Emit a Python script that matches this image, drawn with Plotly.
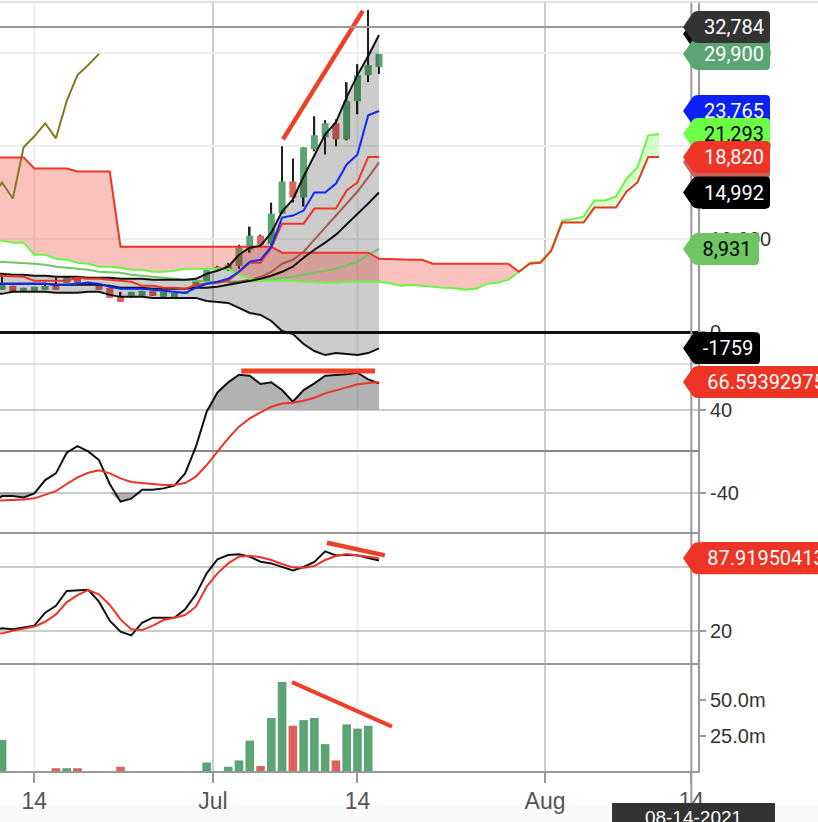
import numpy as np
import pandas as pd
import plotly.graph_objects as go
from plotly.subplots import make_subplots

# daily bars, last candle is 2021-07-16, cloud runs 26 days ahead of it
dates = pd.date_range("2021-06-10", periods=63).strftime("%Y-%m-%d").tolist()
hist = dates[:37]
candle_dates = dates[1:37]

opens = [4532,4963,4316,4316,4532,5179,5287,5827,5395,5071,4748,3777,3884,3884,4424,3777,3669,4100,4856,5395,6690,6690,7121,8848,10358,9495,12732,16185,14459,19638,20933,22443,20717,24817,27622,28486]
closes = [5071,4316,4748,4856,4963,4532,5935,5287,5071,4532,3669,3237,4316,4424,3884,4316,4208,4316,5503,6690,7014,7229,9064,10358,9387,12732,16185,14459,19854,21148,22443,20717,24817,27622,28701,29900]
highs = [5935,4963,4748,4856,5287,5827,5935,5827,5395,5071,4748,4316,4316,4424,4424,4316,4208,4316,5503,6690,7121,7445,9387,11330,10466,13919,19962,18667,19854,23199,22767,22875,26867,28809,34636,29900]
lows = [4532,4316,4316,4316,4532,4532,5287,5287,5071,4532,3669,3237,3669,3884,3884,3777,3669,4100,4856,5395,6690,6582,6798,8524,9387,9387,12732,13919,13488,19422,19098,19962,20609,23414,26867,27730]
volumes = [22,0,0,0,0,2,2,2,0,0,0,3,0,0,0,0,0,0,0,6,0,3,7.5,21.5,3.5,37.5,63,32,36,37.5,19,7.5,33,30,32,0]

band_upper = [6258,6258,6150,6150,6042,6042,5935,5935,5935,5827,5827,5827,5719,5719,5719,5611,5611,5611,5611,5719,6258,6582,7014,8308,9064,9279,10682,12948,14243,16725,18990,21256,22551,25249,27622,29673,31938]
band_mid = [5179,5179,5179,5179,5179,5179,5071,5071,5071,5071,5071,4963,4748,4748,4748,4640,4640,4640,4640,4748,4748,4856,5071,5287,5503,5719,6042,6474,7014,7985,8848,9603,10466,11545,12624,13811,14992]
band_lower = [4100,4100,4316,4316,4316,4316,4208,4208,4208,4316,4316,3992,3777,3777,3777,3669,3669,3669,3669,3669,3345,3237,3129,2590,2050,1834,1187,108,-216,-1295,-2050,-2482,-2266,-2374,-2482,-2266,-1759]
tenkan = [5179,5179,5179,5179,5179,5179,5071,5071,5179,5287,5179,4856,4640,4640,4640,4532,4424,4316,4208,4748,5179,5395,5719,6474,7553,7769,9172,12301,12516,13056,14998,14998,15969,18019,19098,23306,23765]
kijun = [6042,6042,5990,5935,5503,5503,5503,5503,5827,5719,5719,5611,5503,5395,4963,4963,4748,4748,4640,5071,5179,5287,5503,6474,7445,7445,9064,11653,11653,11653,13272,13272,13272,15214,16077,18820,18820]
brown_ma = [5287,5395,5611,5935,6474,7337,7769,8632,9927,11222,12516,13703,15106,16617,18235]
long_ma = [7607,7553,7445,7391,7337,7229,7014,6906,6798,6690,6474,6420,6366,6150,6042,5935,5827,5719,5611,5503,5395,5395,5395,5395,5449,5503,5611,5827,5935,6150,6366,6582,6798,7121,7553,8308,8931]
chikou = [14243,16077,14351,19854,21041,22443,20825,24817,27622,28701,29900]
senkou_b = [18775,18775,18775,18775,17588,17588,17588,17588,17264,17264,17264,17264,9172,9172,9172,9172,9172,9172,9172,9172,9172,9172,9172,9172,9172,9172,9172,8524,8524,8524,8524,8524,8524,8524,8524,8524,7877,7823,7769,7769,7769,7337,7337,7337,7337,7337,7337,7337,7337,6474,7337,7445,8740,11761,11761,11761,13380,13380,13380,15106,16077,18820,18820]
senkou_a = [9927,9819,9603,9603,8308,8308,7877,7769,7445,7337,7014,7014,6906,6690,6690,6474,6474,6582,6798,6798,6798,6798,6798,6150,5719,5503,5503,5503,5503,5395,5395,5287,5287,5395,5395,5395,5395,5233,4963,5071,4963,4802,4748,4694,4532,4640,5179,5287,5611,6474,7445,7553,8848,11977,12139,12408,14135,14135,14567,16509,17696,21148,21293]

osc_black = [-50.4,-43.4,-43.4,-44.7,-40.8,-28,-21.5,-1.6,4.8,-0.3,-8.7,-31.8,-48.8,-45.9,-37.3,-37.3,-36,-33.4,-21.5,4.2,37.9,56.5,66.2,73.6,72.6,64.6,66.2,58.8,47.6,58.8,65.2,72.6,73.3,73.9,75.5,69.1,65.2]
osc_red = [-48.2,-47.9,-47.2,-46.6,-45.6,-42.4,-38.6,-31.8,-25.4,-20.9,-18.6,-21.5,-26.3,-29.9,-30.8,-32.1,-32.8,-32.8,-30.8,-24.7,-13.5,-0.6,12.2,23.5,31.5,37.3,42.7,45.9,46.6,48.5,51.4,55.6,58.8,61.4,64.3,65.2,66.59]
stoch_black = [20.6,22.2,21.3,23.1,24.7,36.9,43.4,57.2,57.5,58.4,47.2,29.4,19.1,15.6,27.5,32.2,32.2,32.2,40,54.1,73.8,86.9,90.9,91.6,89.4,84.7,83.1,80,76.6,79.7,84.4,94.4,90.6,91.3,90.6,88.1,85.9]
stoch_red = [16.6,17.5,20,22.2,23.8,28.4,35.3,46.6,53.4,58.1,54.1,44.1,30.6,21.3,20.6,24.7,30,32.2,34.7,42.5,61.3,73.8,83.1,89.4,90.3,88.8,86.3,82.5,79.4,79.1,80.6,86.3,90,91.9,90.9,89.4,87.92]

# hand drawn trend lines on the original
trend_main_x = ["2021-07-07 02:00", "2021-07-14 12:00"]
trend_main_y = [20717, 34528]
trend_osc_x = ["2021-07-03 05:00", "2021-07-15 15:00"]
trend_osc_y = [77.1, 77.1]
trend_stoch_x = ["2021-07-11 04:00", "2021-07-16 13:00"]
trend_stoch_y = [102.5, 90.6]
trend_vol_x = ["2021-07-07 22:00", "2021-07-17 05:00"]
trend_vol_y = [62.9, 31.4]

tick_dates = ["2021-06-14", "2021-06-30 14:00", "2021-07-14", "2021-07-31 10:00", "2021-08-14"]
tick_text = ["14", "Jul", "14", "Aug", "14"]
x_range = ["2021-06-10 19:25", "2021-08-14 14:53"]

GREEN = "#5ba474"
RED = "#dd635b"
LINE_RED = "#ee3425"
LIME = "#6bf545"
ORANGE = "#ee4026"
DAY = 86400000

# px sizes of the four panes on the 818x822 page
fig = make_subplots(rows=4, cols=1, shared_xaxes=True, vertical_spacing=0, row_heights=[361, 169, 131, 107])


def line(x, y, color, row, width=2):
    fig.add_trace(go.Scatter(x=x, y=y, mode="lines", line=dict(color=color, width=width), hoverinfo="skip"), row=row, col=1)


def fill_between(x, low, high, color, row):
    fig.add_trace(go.Scatter(x=x, y=low, mode="lines", line=dict(width=0), hoverinfo="skip"), row=row, col=1)
    fig.add_trace(go.Scatter(x=x, y=high, mode="lines", line=dict(width=0), fill="tonexty", fillcolor=color, hoverinfo="skip"), row=row, col=1)


candle_colors = [GREEN if c >= o else RED for o, c in zip(opens, closes)]
fig.add_trace(go.Bar(x=candle_dates, base=lows, y=np.array(highs) - np.array(lows), width=DAY * 0.15, marker=dict(color="#222222", line_width=0)), row=1, col=1)
fig.add_trace(go.Bar(x=candle_dates, base=opens, y=np.array(closes) - np.array(opens), width=DAY * 0.65, marker=dict(color=candle_colors, line_width=0)), row=1, col=1)

fill_between(hist, band_lower, band_upper, "rgba(0,0,0,0.2)", 1)
fill_between(dates[:50], senkou_a[:50], senkou_b[:50], "rgba(238,52,37,0.3)", 1)
fill_between(dates[49:], senkou_b[49:], senkou_a[49:], "rgba(107,255,70,0.28)", 1)

line(dates[:11], chikou, "#807a22", 1)
line(hist, long_ma, "#6fc563", 1)
line(dates[22:37], brown_ma, "#a55a50", 1)
line(dates, senkou_a, LIME, 1)
line(dates, senkou_b, LINE_RED, 1)
line(hist, band_upper, "#111111", 1)
line(hist, band_mid, "#111111", 1)
line(hist, band_lower, "#111111", 1)
line(hist, kijun, LINE_RED, 1)
line(hist, tenkan, "#0a2cf5", 1)
line(trend_main_x, trend_main_y, ORANGE, 1, 4.5)

osc = np.array(osc_black)
fill_between(hist, [40] * 37, np.maximum(osc, 40), "rgba(0,0,0,0.3)", 2)
fill_between(hist, [-40] * 37, np.minimum(osc, -40), "rgba(0,0,0,0.3)", 2)
line(hist, osc_black, "#111111", 2)
line(hist, osc_red, LINE_RED, 2)
line(trend_osc_x, trend_osc_y, ORANGE, 2, 5)

line(hist, stoch_black, "#111111", 3)
line(hist, stoch_red, LINE_RED, 3)
line(trend_stoch_x, trend_stoch_y, ORANGE, 3, 4.5)

fig.add_trace(go.Bar(x=candle_dates, y=volumes, width=DAY * 0.8, marker=dict(color=candle_colors, line_width=0)), row=4, col=1)
line(trend_vol_x, trend_vol_y, ORANGE, 4, 4)

fig.update_layout(
    width=818, height=822, margin=dict(l=0, r=120, t=3, b=51),
    barmode="overlay", showlegend=False, plot_bgcolor="white", paper_bgcolor="white",
    font=dict(family="Liberation Sans", size=20, color="#333333"),
)

fig.update_xaxes(range=x_range, showgrid=False, zeroline=False, showline=False, ticks="", type="date")
fig.update_xaxes(row=4, col=1, tickmode="array", tickvals=tick_dates, ticktext=tick_text, ticks="outside", ticklen=10, tickwidth=2,
                 tickcolor="#999999", showline=True, linecolor="#999999", linewidth=2, tickfont=dict(color="#555555", size=23), ticklabelstandoff=-2)

axis_style = dict(side="right", ticks="outside", ticklen=6, tickwidth=1.5, tickcolor="#999999", showline=True, linecolor="#999999", linewidth=2, tickmode="array")
fig.update_yaxes(row=1, col=1, range=[-3441, 35376], tickvals=[0, 10000, 20000, 30000], tickformat=",", gridcolor="#eeeeee", gridwidth=2,
                 zeroline=True, zerolinecolor="#111111", zerolinewidth=2.5, **axis_style)
fig.update_yaxes(row=2, col=1, range=[-79, 83.9], tickvals=[-40, 40], ticktext=["-40", "40"], gridcolor="#cccccc", gridwidth=2,
                 zeroline=True, zerolinecolor="#888888", zerolinewidth=2, **axis_style)
fig.update_yaxes(row=3, col=1, range=[-11.2, 111.6], tickvals=[20, 80], gridcolor="#cccccc", gridwidth=2, zeroline=False, **axis_style)
fig.update_yaxes(row=4, col=1, range=[0, 75.7], tickvals=[25, 50], ticktext=["25.0m", "50.0m"], showgrid=False, zeroline=False, **axis_style)

# vertical grid crosses all panes
for tick, color in zip(tick_dates[:4], ["#eeeeee", "#cccccc", "#eeeeee", "#cccccc"]):
    fig.add_shape(type="line", xref="x", yref="paper", x0=tick, x1=tick, y0=0, y1=1, layer="below", line=dict(color=color, width=2))

# pane dividers, page strips and the crosshair
fig.add_shape(type="line", xref="paper", yref="paper", x0=0, x1=1, y0=407 / 768, y1=407 / 768, line=dict(color="#dddddd", width=2))
fig.add_shape(type="line", xref="paper", yref="paper", x0=0, x1=1, y0=238 / 768, y1=238 / 768, line=dict(color="#999999", width=2))
fig.add_shape(type="line", xref="paper", yref="paper", x0=0, x1=1, y0=107 / 768, y1=107 / 768, line=dict(color="#999999", width=2))
fig.add_shape(type="line", xref="paper", yref="paper", x0=0, x1=818 / 698, y0=769 / 768, y1=769 / 768, line=dict(color="#dddde3", width=2))
fig.add_shape(type="rect", xref="paper", yref="paper", x0=0, x1=818 / 698, y0=-51 / 768, y1=-34 / 768, layer="below", fillcolor="#fafafa", line_width=0)
fig.add_shape(type="line", xref="x", yref="paper", x0="2021-08-14", x1="2021-08-14", y0=-32 / 768, y1=1, line=dict(color="#999999", width=2))
fig.add_shape(type="line", xref="x", yref="y", x0=x_range[0], x1="2021-08-14", y0=32784, y1=32784, line=dict(color="#999999", width=2))


def tag(value, yref, color, right, text=None, text_color="white", center=734):
    # tip at px 683, body up to px 'right', measured from the axis line at px 698
    w = right - 698
    path = (f"M -15 0 L -6 -13 Q -4 -16 0 -16 L {w-4} -16 Q {w} -16 {w} -12 L {w} 12 "
            f"Q {w} 16 {w-4} 16 L 0 16 Q -4 16 -6 13 Z")
    fig.add_shape(type="path", path=path, xref="paper", yref=yref, xsizemode="pixel", ysizemode="pixel", xanchor=1, yanchor=value,
                  fillcolor=color, line_width=0)
    if text is None:
        return
    half = center - 702
    fig.add_annotation(x=center / 698, y=value, xref="paper", yref=yref, text=text, showarrow=False, xanchor="center", yanchor="middle",
                       width=half * 2, height=32, align="center", valign="middle", bgcolor=color, borderpad=0, borderwidth=0,
                       font=dict(family="Roboto", size=20, color=text_color))


tag(32046, "y", "#000000", 770)
tag(29900, "y", GREEN, 770, "29,900")
tag(32784, "y", "#333333", 770, "32,784")
tag(23765, "y", "#0a22f5", 770, "23,765")
tag(21293, "y", "#6bff46", 770, "21,293", "black")
tag(18235, "y", "#c8625b", 770)
tag(18820, "y", "#ee3425", 770, "18,820")
tag(14992, "y", "#000000", 770, "14,992")
tag(8931, "y", "#6fc563", 759, "8,931", "black", 727)
tag(-1759, "y", "#000000", 760, "-1759", "white", 728)
tag(66.59392975, "y2", "#ee3425", 900, "66.59392975", "white", 766)
tag(87.91950413, "y3", "#ee3425", 900, "87.91950413", "white", 766)

fig.add_annotation(x=693 / 698, y=-32 / 768, xref="paper", yref="paper", text="08-14-2021", showarrow=False, xanchor="center", yanchor="top",
                   width=163, height=28, bgcolor="#333333", borderpad=0, borderwidth=0, font=dict(family="Liberation Sans", size=19, color="white"))

fig.write_html("out.html", config={"displayModeBar": False}, post_script="document.body.style.margin='0'")
